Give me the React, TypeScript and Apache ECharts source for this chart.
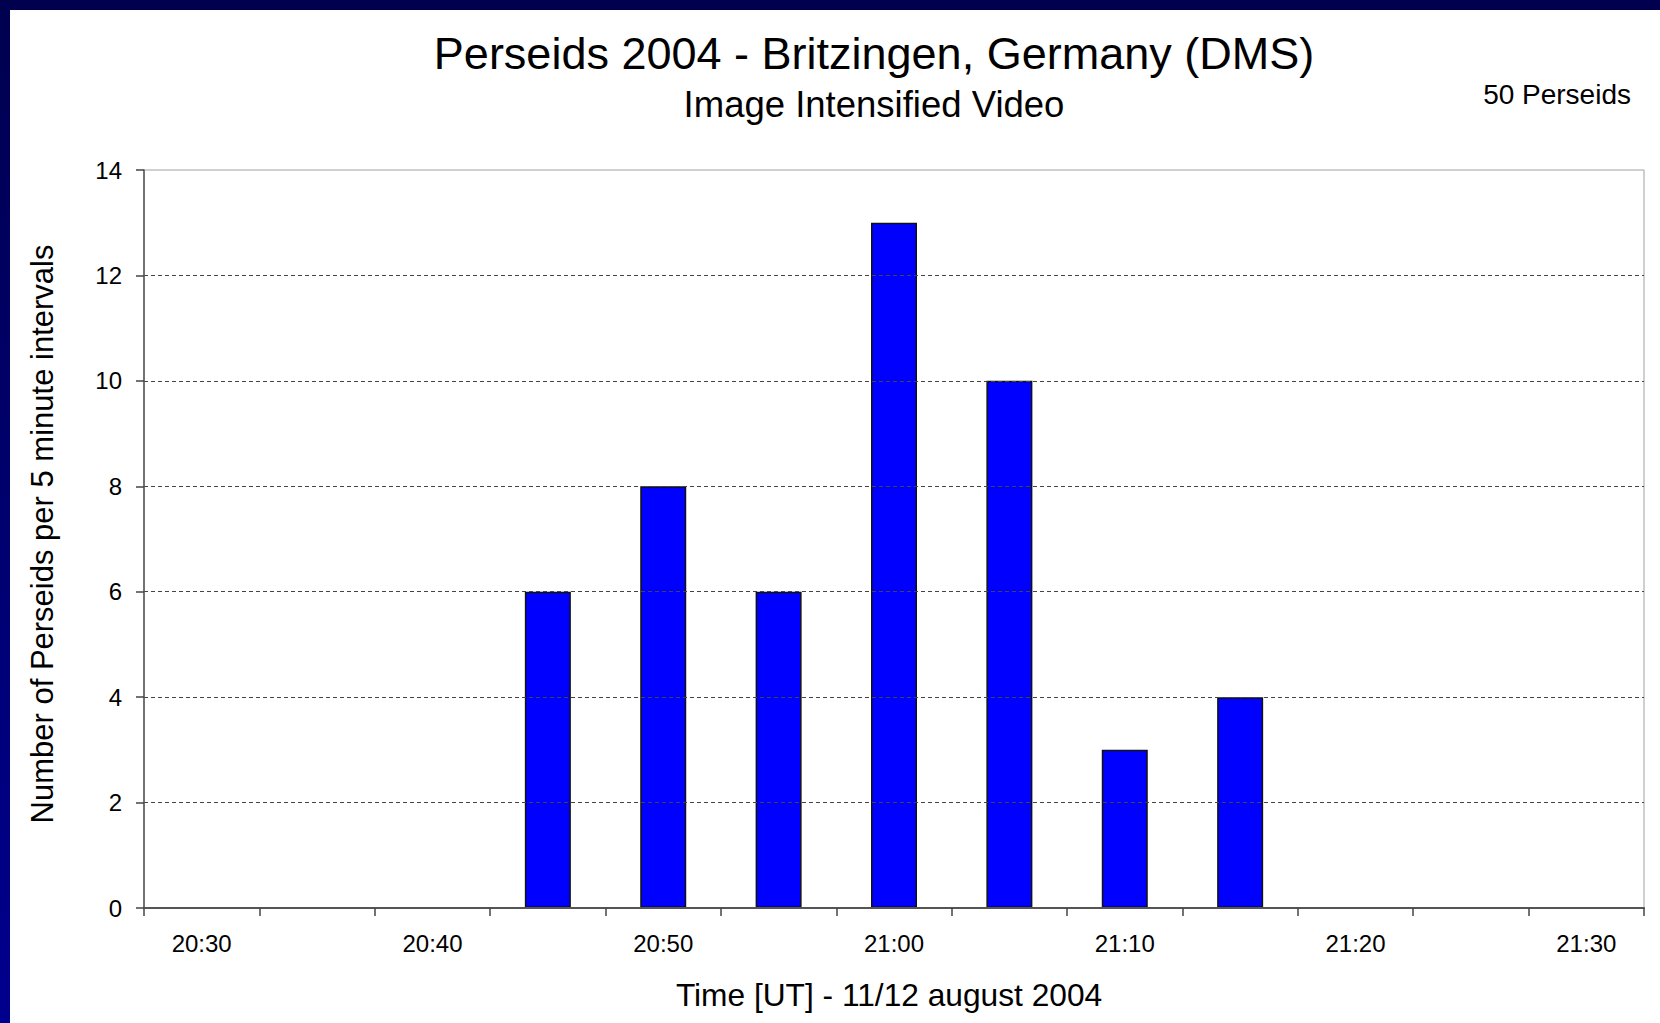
import React, { useEffect, useRef } from "react";
import * as echarts from "echarts";

const timeBins = ["20:30", "20:35", "20:40", "20:45", "20:50", "20:55", "21:00", "21:05", "21:10", "21:15", "21:20", "21:25", "21:30"];
const perseidCounts = [0, 0, 0, 6, 8, 6, 13, 10, 3, 4, 0, 0, 0];
const yTicks = { min: 0, max: 14, interval: 2 };

const titleText = "Perseids 2004 - Britzingen, Germany (DMS)";
const subtitleText = "Image Intensified Video";
const totalText = "50 Perseids";
const xTitle = "Time [UT] - 11/12 august 2004";
const yTitle = "Number of Perseids per 5 minute intervals";

const FONT = "'Liberation Sans', Arial, Helvetica, sans-serif";

export default function App() {
  const ref = useRef<HTMLDivElement>(null);
  useEffect(() => {
    if (!ref.current) return;
    const chart = echarts.init(ref.current, null, { renderer: "svg" });
    chart.setOption({
      animation: false,
      backgroundColor: "#ffffff",
      textStyle: { fontFamily: FONT, color: "#000" },
      grid: {
        left: 144,
        top: 170,
        width: 1500,
        height: 738,
        show: true,
        borderColor: "#a0a0a0",
        borderWidth: 1,
        backgroundColor: "transparent",
      },
      xAxis: {
        type: "category",
        data: timeBins,
        boundaryGap: true,
        z: 5,
        axisLine: { show: true, lineStyle: { color: "#555", width: 2 } },
        axisTick: { show: true, interval: 0, length: 8, lineStyle: { color: "#444", width: 1.5 } },
        axisLabel: { interval: 1, fontSize: 24, color: "#000", fontFamily: FONT, margin: 23 },
        splitLine: { show: false },
      },
      yAxis: {
        type: "value",
        min: yTicks.min,
        max: yTicks.max,
        interval: yTicks.interval,
        z: 5,
        axisLine: { show: true, lineStyle: { color: "#555", width: 1.5 } },
        axisTick: { show: true, length: 8, lineStyle: { color: "#444", width: 1.5 } },
        axisLabel: { fontSize: 24, color: "#000", fontFamily: FONT, margin: 22 },
        splitLine: {
          show: true,
          showMinLine: false,
          showMaxLine: false,
          lineStyle: { color: "#444", width: 1, type: [4, 3] },
        },
      },
      series: [
        {
          type: "bar",
          z: 2,
          data: perseidCounts,
          barWidth: 46,
          itemStyle: { color: "#0000ff", borderColor: "#111", borderWidth: 1.5 },
        },
      ],
      graphic: [
        { type: "rect", shape: { x: 0, y: 0, width: 1660, height: 10 }, style: { fill: "#00004f" }, z: 100 },
        {
          type: "rect",
          shape: { x: 0, y: 0, width: 10, height: 1023 },
          style: {
            fill: new echarts.graphic.LinearGradient(0, 0, 0, 1, [
              { offset: 0, color: "#00004f" },
              { offset: 1, color: "#00008e" },
            ]),
          },
          z: 100,
        },
        {
          type: "text",
          x: 874,
          y: 76,
          style: { text: titleText, font: `45px ${FONT}`, fill: "#000", textAlign: "center", textVerticalAlign: "bottom" },
        },
        {
          type: "text",
          x: 874,
          y: 123,
          style: { text: subtitleText, font: `36.5px ${FONT}`, fill: "#000", textAlign: "center", textVerticalAlign: "bottom" },
        },
        {
          type: "text",
          x: 1631,
          y: 108,
          style: { text: totalText, font: `28px ${FONT}`, fill: "#000", textAlign: "right", textVerticalAlign: "bottom" },
        },
        {
          type: "text",
          x: 889,
          y: 1011,
          style: { text: xTitle, font: `31.7px ${FONT}`, fill: "#000", textAlign: "center", textVerticalAlign: "bottom" },
        },
        {
          type: "text",
          x: 42,
          y: 534,
          rotation: Math.PI / 2,
          style: { text: yTitle, font: `31px ${FONT}`, fill: "#000", textAlign: "center", textVerticalAlign: "middle" },
        },
      ],
    });
    return () => chart.dispose();
  }, []);
  return (
    <div
      ref={ref}
      style={{ position: "fixed", left: 0, top: 0, width: 1660, height: 1023, background: "#fff" }}
    />
  );
}
